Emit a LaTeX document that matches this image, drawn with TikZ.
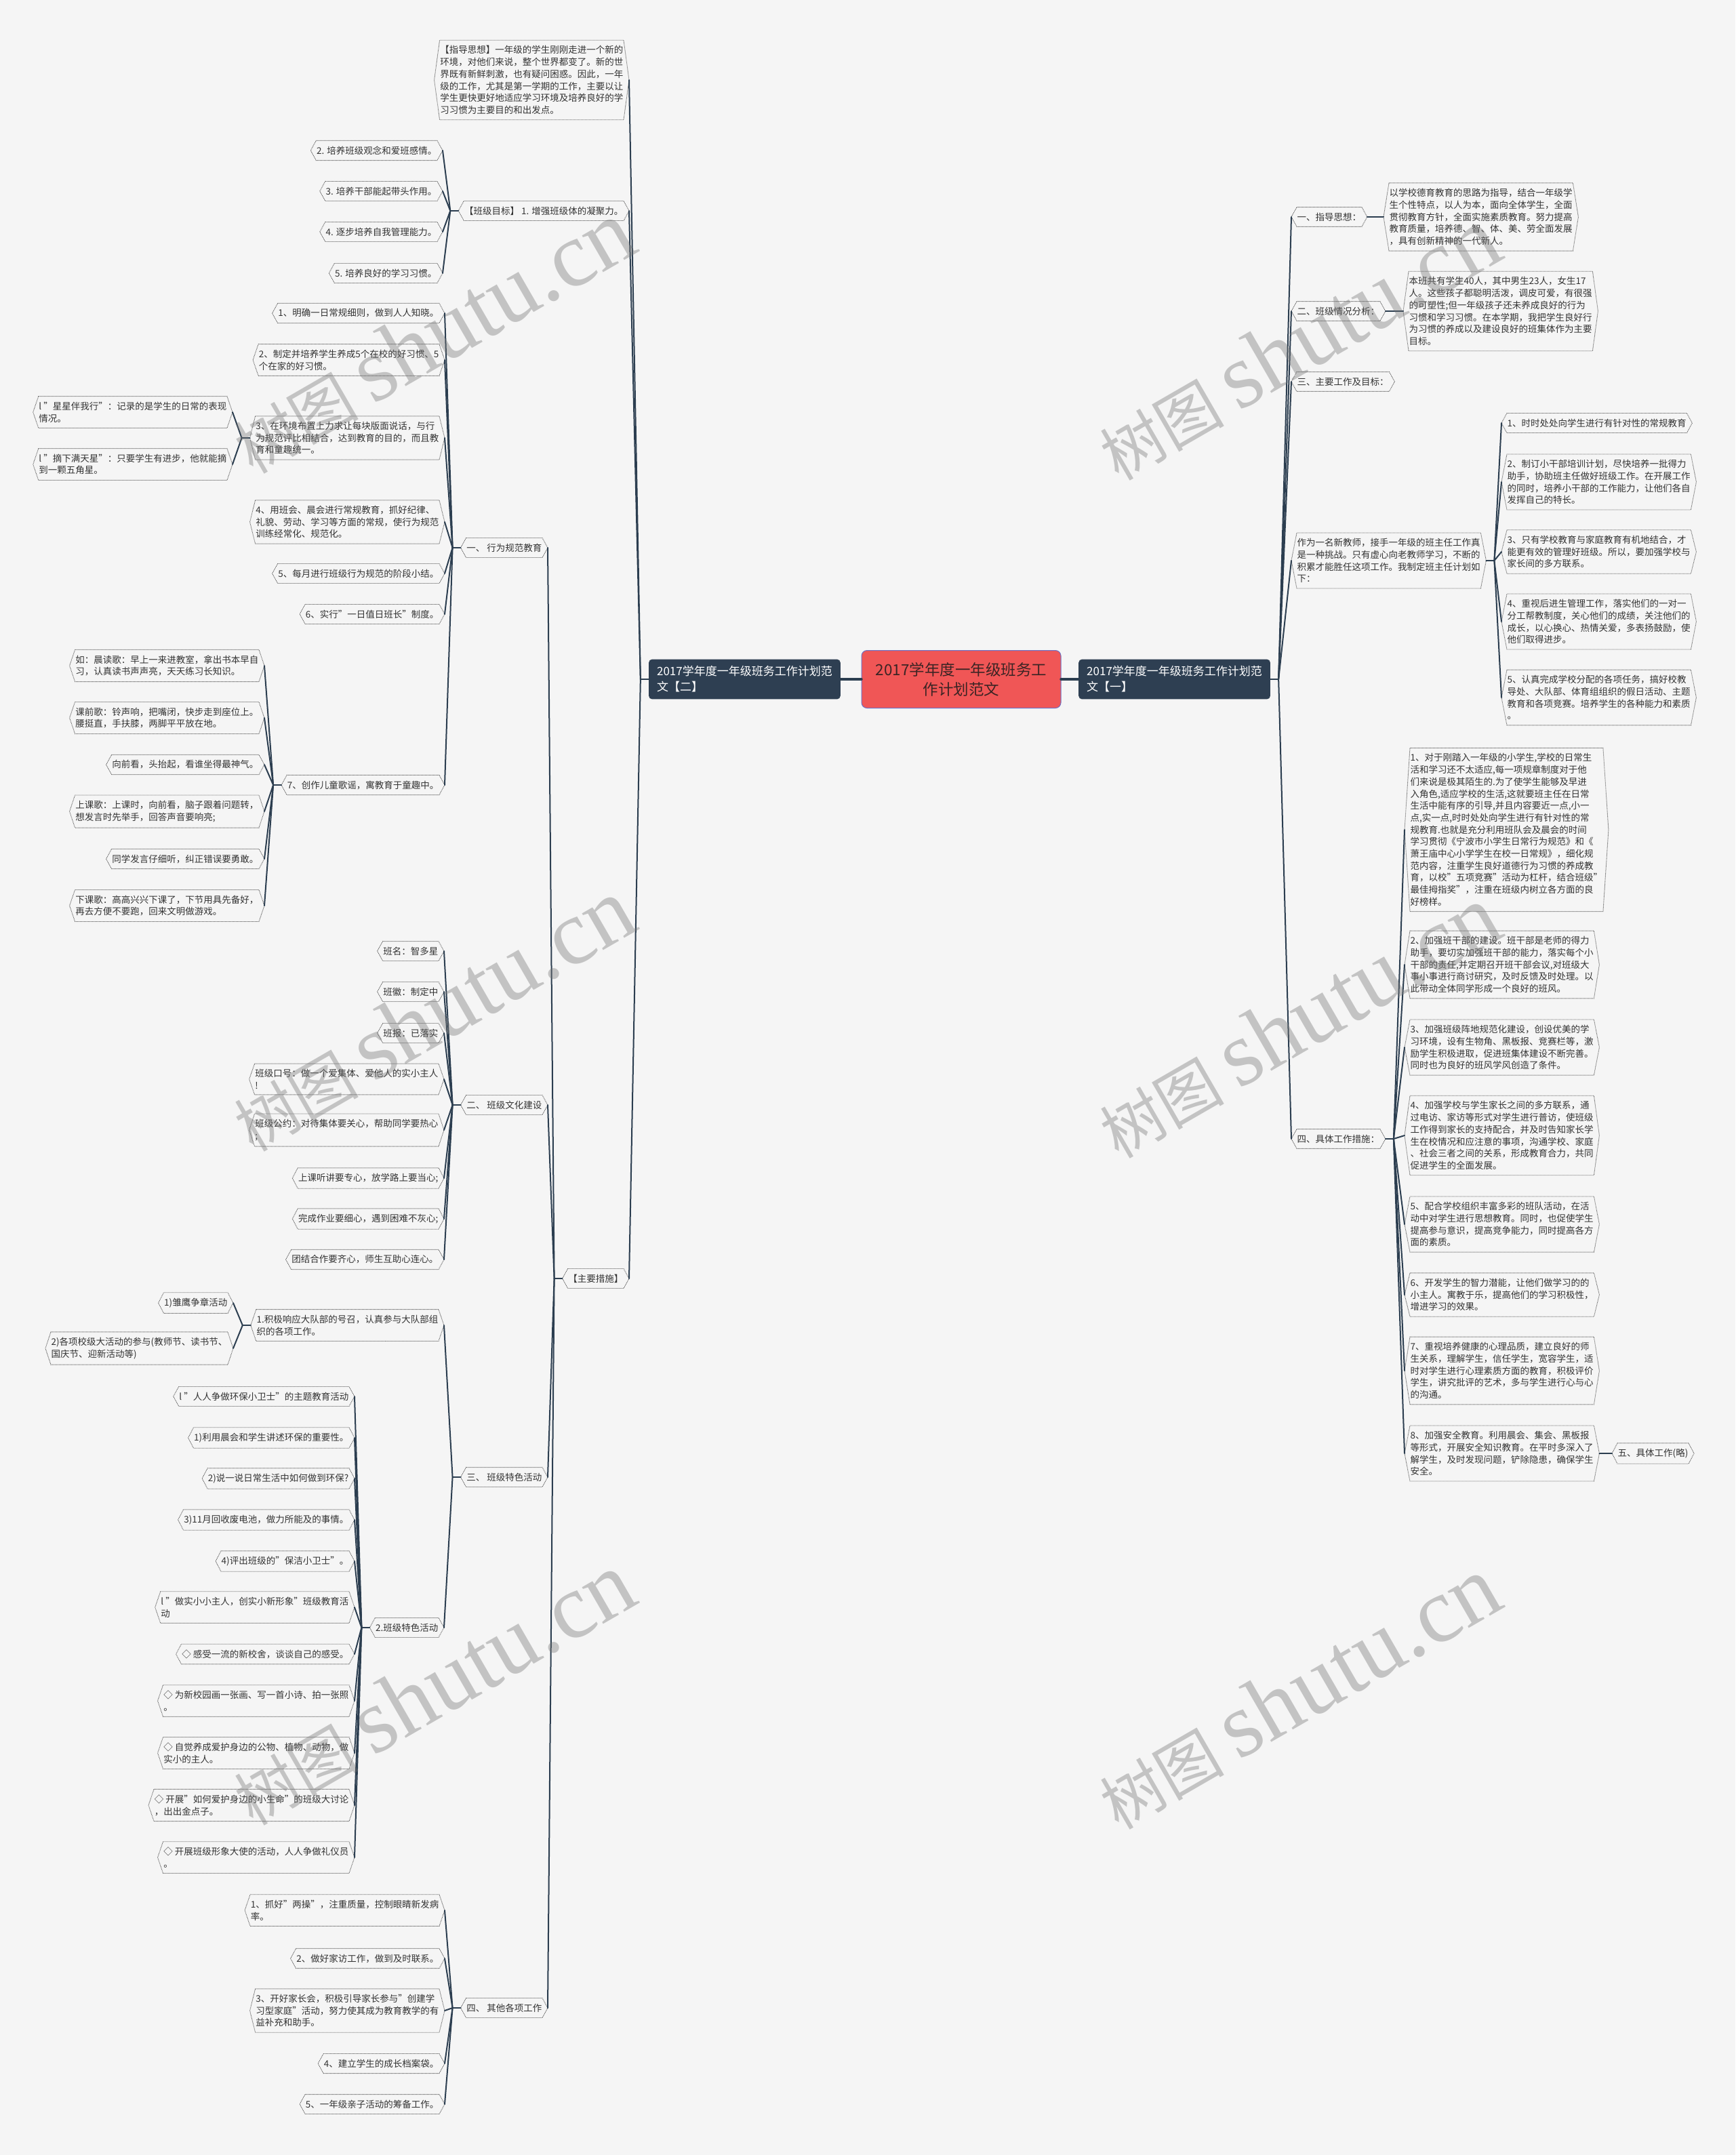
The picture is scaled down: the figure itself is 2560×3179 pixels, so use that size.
\documentclass[tikz,border=0pt]{standalone}
\usepackage{fontspec}
\setmainfont{Noto Sans CJK SC}
\newfontfamily\wmserif{Liberation Serif}
\usetikzlibrary{calc}
\definecolor{bg}{HTML}{F5F5F5}
\definecolor{navy}{HTML}{2C3E50}
\definecolor{lonefill}{HTML}{2E3F52}
\definecolor{ctrfill}{HTML}{F05656}
\definecolor{ctrborder}{HTML}{6C6FC4}
\definecolor{ctrtext}{HTML}{3B2424}
\definecolor{txt}{HTML}{333333}
\definecolor{bord}{HTML}{555555}
\tikzset{
  hx/.style={font=\fontsize{13.5}{17.7}\selectfont, text=txt, align=left, inner xsep=8.5, inner ysep=8},
  hxline/.style={draw=bord, line width=0.9, dash pattern=on 1pt off 1pt},
  conn/.style={draw=navy, line width=2, line cap=round, line join=round},
  maincn/.style={draw=navy, line width=4.5, line cap=round},
  lone/.style={fill=lonefill, text=white, rounded corners=5, font=\fontsize{17}{23}\selectfont, align=left, inner xsep=12, inner ysep=10},
  ctrn/.style={fill=ctrfill, draw=ctrborder, line width=1, rounded corners=8, font=\fontsize{22.5}{29}\selectfont, align=center, text=ctrtext, minimum width=294, minimum height=85},
  wm/.style={text=black!55, opacity=0.38, rotate=30, inner sep=0}
}
\newcommand\hxnode[4]{%
  \node[hx,anchor=#2] (#1) at (#3) {#4};
  \draw[hxline] ([xshift=8]#1.north west) -- ([xshift=-8]#1.north east) -- (#1.east) -- ([xshift=-8]#1.south east) -- ([xshift=8]#1.south west) -- (#1.west) -- cycle;}
\newcommand\lfan[2]{%
  \draw[conn] (#1.west) -- ++(-12,0) coordinate (j#1);
  \foreach \c in {#2}{\draw[conn] (j#1) -- (\c.east);}}
\newcommand\rfan[2]{%
  \draw[conn] (#1.east) -- ++(12,0) coordinate (k#1);
  \foreach \c in {#2}{\draw[conn] (k#1) -- (\c.west);}}
\begin{document}
\begin{tikzpicture}[x=1pt,y=-1pt]
\fill[bg] (0,0) rectangle (2560,3179);
\useasboundingbox (0,0) rectangle (2560,3179);

% centre and level one
\node[ctrn] (ctr) at (1418,1002) {2017学年度一年级班务工\\作计划范文};
\node[lone, anchor=east] (lL1) at (1240,1002) {2017学年度一年级班务工作计划范\\文【二】};
\node[lone, anchor=west] (rL1) at (1591,1002) {2017学年度一年级班务工作计划范\\文【一】};
\draw[maincn] (ctr.west) -- (lL1.east);
\draw[maincn] (ctr.east) -- (rL1.west);

% ---------------- left side ----------------
\hxnode{a1}{east}{928,118}{【指导思想】一年级的学生刚刚走进一个新的\\环境，对他们来说，整个世界都变了。新的世\\界既有新鲜刺激，也有疑问困惑。因此，一年\\级的工作，尤其是第一学期的工作，主要以让\\学生更快更好地适应学习环境及培养良好的学\\习习惯为主要目的和出发点。}
\hxnode{a2}{east}{928,311}{【班级目标】 1. 增强班级体的凝聚力。}
\hxnode{a2k1}{east}{653,222}{2. 培养班级观念和爱班感情。}
\hxnode{a2k2}{east}{653,282}{3. 培养干部能起带头作用。}
\hxnode{a2k3}{east}{653,342}{4. 逐步培养自我管理能力。}
\hxnode{a2k4}{east}{653,403}{5. 培养良好的学习习惯。}
\hxnode{a3}{east}{928,1886}{【主要措施】}

\hxnode{b1}{east}{808,808}{一、 行为规范教育}
\hxnode{b2}{east}{808,1630}{二、 班级文化建设}
\hxnode{b3}{east}{808,2179}{三、 班级特色活动}
\hxnode{b4}{east}{808,2962}{四、 其他各项工作}

\hxnode{b1k1}{east}{656,462}{1、明确一日常规细则，做到人人知晓。}
\hxnode{b1k2}{east}{656,531}{2、制定并培养学生养成5个在校的好习惯、5\\个在家的好习惯。}
\hxnode{b1k3}{east}{656,646}{3、在环境布置上力求让每块版面说话，与行\\为规范评比相结合，达到教育的目的，而且教\\育和童趣统一。}
\hxnode{b1k4}{east}{656,770}{4、用班会、晨会进行常规教育，抓好纪律、\\礼貌、劳动、学习等方面的常规，使行为规范\\训练经常化、规范化。}
\hxnode{b1k5}{east}{656,846}{5、每月进行班级行为规范的阶段小结。}
\hxnode{b1k6}{east}{656,906}{6、实行"一日值日班长"制度。}
\hxnode{b1k7}{east}{656,1158}{7、创作儿童歌谣，寓教育于童趣中。}

\hxnode{b13k1}{east}{343,608}{l "星星伴我行"：记录的是学生的日常的表现\\情况。}
\hxnode{b13k2}{east}{343,685}{l "摘下满天星"：只要学生有进步，他就能摘\\到一颗五角星。}

\hxnode{b17k1}{east}{390,982}{如：晨读歌：早上一来进教室，拿出书本早自\\习，认真读书声声亮，天天练习长知识。}
\hxnode{b17k2}{east}{390,1059}{课前歌：铃声响，把嘴闭，快步走到座位上。\\腰挺直，手扶膝，两脚平平放在地。}
\hxnode{b17k3}{east}{390,1128}{向前看，头抬起，看谁坐得最神气。}
\hxnode{b17k4}{east}{390,1197}{上课歌：上课时，向前看，脑子跟着问题转，\\想发言时先举手，回答声音要响亮;}
\hxnode{b17k5}{east}{390,1267}{同学发言仔细听，纠正错误要勇敢。}
\hxnode{b17k6}{east}{390,1336}{下课歌：高高兴兴下课了，下节用具先备好，\\再去方便不要跑，回来文明做游戏。}

\hxnode{b2k1}{east}{655,1403}{班名：智多星}
\hxnode{b2k2}{east}{655,1463}{班徽：制定中}
\hxnode{b2k3}{east}{655,1524}{班报：已落实}
\hxnode{b2k4}{east}{655,1592}{班级口号：做一个爱集体、爱他人的实小主人\\!}
\hxnode{b2k5}{east}{655,1667}{班级公约：对待集体要关心，帮助同学要热心\\;}
\hxnode{b2k6}{east}{655,1738}{上课听讲要专心，放学路上要当心;}
\hxnode{b2k7}{east}{655,1798}{完成作业要细心，遇到困难不灰心;}
\hxnode{b2k8}{east}{655,1858}{团结合作要齐心，师生互助心连心。}

\hxnode{c1}{east}{655,1955}{1.积极响应大队部的号召，认真参与大队部组\\织的各项工作。}
\hxnode{c2}{east}{655,2401}{2.班级特色活动}
\hxnode{c1k1}{east}{344,1922}{1)雏鹰争章活动}
\hxnode{c1k2}{east}{344,1989}{2)各项校级大活动的参与(教师节、读书节、\\国庆节、迎新活动等)}

\hxnode{c2k1}{east}{523,2060}{l "人人争做环保小卫士"的主题教育活动}
\hxnode{c2k2}{east}{523,2121}{1)利用晨会和学生讲述环保的重要性。}
\hxnode{c2k3}{east}{523,2181}{2)说一说日常生活中如何做到环保?}
\hxnode{c2k4}{east}{523,2242}{3)11月回收废电池，做力所能及的事情。}
\hxnode{c2k5}{east}{523,2303}{4)评出班级的"保洁小卫士"。}
\hxnode{c2k6}{east}{523,2371}{l "做实小小主人，创实小新形象"班级教育活\\动}
\hxnode{c2k7}{east}{523,2440}{◇ 感受一流的新校舍，谈谈自己的感受。}
\hxnode{c2k8}{east}{523,2509}{◇ 为新校园画一张画、写一首小诗、拍一张照\\。}
\hxnode{c2k9}{east}{523,2586}{◇ 自觉养成爱护身边的公物、植物、动物，做\\实小的主人。}
\hxnode{c2k10}{east}{523,2663}{◇ 开展"如何爱护身边的小生命"的班级大讨论\\，出出金点子。}
\hxnode{c2k11}{east}{523,2740}{◇ 开展班级形象大使的活动，人人争做礼仪员\\。}

\hxnode{b4k1}{east}{656,2818}{1、抓好"两操"，注重质量，控制眼睛新发病\\率。}
\hxnode{b4k2}{east}{656,2889}{2、做好家访工作，做到及时联系。}
\hxnode{b4k3}{east}{656,2966}{3、开好家长会，积极引导家长参与"创建学\\习型家庭"活动，努力使其成为教育教学的有\\益补充和助手。}
\hxnode{b4k4}{east}{656,3044}{4、建立学生的成长档案袋。}
\hxnode{b4k5}{east}{656,3104}{5、一年级亲子活动的筹备工作。}

\lfan{lL1}{a1,a2,a3}
\lfan{a2}{a2k1,a2k2,a2k3,a2k4}
\lfan{a3}{b1,b2,b3,b4}
\lfan{b1}{b1k1,b1k2,b1k3,b1k4,b1k5,b1k6,b1k7}
\lfan{b1k3}{b13k1,b13k2}
\lfan{b1k7}{b17k1,b17k2,b17k3,b17k4,b17k5,b17k6}
\lfan{b2}{b2k1,b2k2,b2k3,b2k4,b2k5,b2k6,b2k7,b2k8}
\lfan{b3}{c1,c2}
\lfan{c1}{c1k1,c1k2}
\lfan{c2}{c2k1,c2k2,c2k3,c2k4,c2k5,c2k6,c2k7,c2k8,c2k9,c2k10,c2k11}
\lfan{b4}{b4k1,b4k2,b4k3,b4k4,b4k5}

% ---------------- right side ----------------
\hxnode{d1}{west}{1905,320}{一、指导思想：}
\hxnode{d1k}{west}{2041,320}{以学校德育教育的思路为指导，结合一年级学\\生个性特点，以人为本，面向全体学生，全面\\贯彻教育方针，全面实施素质教育。努力提高\\教育质量，培养德、智、体、美、劳全面发展\\，具有创新精神的一代新人。}
\hxnode{d2}{west}{1905,459}{二、班级情况分析：}
\hxnode{d2k}{west}{2070,459}{本班共有学生40人，其中男生23人，女生17\\人。这些孩子都聪明活泼，调皮可爱，有很强\\的可塑性;但一年级孩子还未养成良好的行为\\习惯和学习习惯。在本学期，我把学生良好行\\为习惯的养成以及建设良好的班集体作为主要\\目标。}
\hxnode{d3}{west}{1905,563}{三、主要工作及目标：}
\hxnode{d4}{west}{1905,827}{作为一名新教师，接手一年级的班主任工作真\\是一种挑战。只有虚心向老教师学习，不断的\\积累才能胜任这项工作。我制定班主任计划如\\下：}
\hxnode{d4k1}{west}{2215,624}{1、时时处处向学生进行有针对性的常规教育}
\hxnode{d4k2}{west}{2215,711}{2、制订小干部培训计划，尽快培养一批得力\\助手，协助班主任做好班级工作。在开展工作\\的同时，培养小干部的工作能力，让他们各自\\发挥自己的特长。}
\hxnode{d4k3}{west}{2215,814}{3、只有学校教育与家庭教育有机地结合，才\\能更有效的管理好班级。所以，要加强学校与\\家长间的多方联系。}
\hxnode{d4k4}{west}{2215,917}{4、重视后进生管理工作，落实他们的一对一\\分工帮教制度，关心他们的成绩，关注他们的\\成长，以心换心、热情关爱，多表扬鼓励，使\\他们取得进步。}
\hxnode{d4k5}{west}{2215,1029}{5、认真完成学校分配的各项任务，搞好校教\\导处、大队部、体育组组织的假日活动、主题\\教育和各项竞赛。培养学生的各种能力和素质\\。}
\hxnode{d5}{west}{1905,1680}{四、具体工作措施：}
\hxnode{e1}{west}{2072,1224}{1、对于刚踏入一年级的小学生,学校的日常生\\活和学习还不太适应,每一项规章制度对于他\\们来说是极其陌生的.为了使学生能够及早进\\入角色,适应学校的生活,这就要班主任在日常\\生活中能有序的引导,并且内容要近一点,小一\\点,实一点,时时处处向学生进行有针对性的常\\规教育.也就是充分利用班队会及晨会的时间\\学习贯彻《宁波市小学生日常行为规范》和《\\萧王庙中心小学学生在校一日常规》，细化规\\范内容，注重学生良好道德行为习惯的养成教\\育，以校"五项竞赛"活动为杠杆，结合班级"\\最佳拇指奖"，注重在班级内树立各方面的良\\好榜样。}
\hxnode{e2}{west}{2072,1423}{2、加强班干部的建设。班干部是老师的得力\\助手，要切实加强班干部的能力，落实每个小\\干部的责任,并定期召开班干部会议,对班级大\\事小事进行商讨研究，及时反馈及时处理。以\\此带动全体同学形成一个良好的班风。}
\hxnode{e3}{west}{2072,1545}{3、加强班级阵地规范化建设，创设优美的学\\习环境，设有生物角、黑板报、竞赛栏等，激\\励学生积极进取，促进班集体建设不断完善。\\同时也为良好的班风学风创造了条件。}
\hxnode{e4}{west}{2072,1675}{4、加强学校与学生家长之间的多方联系，通\\过电访、家访等形式对学生进行普访，使班级\\工作得到家长的支持配合，并及时告知家长学\\生在校情况和应注意的事项，沟通学校、家庭\\、社会三者之间的关系，形成教育合力，共同\\促进学生的全面发展。}
\hxnode{e5}{west}{2072,1806}{5、配合学校组织丰富多彩的班队活动，在活\\动中对学生进行思想教育。同时，也促使学生\\提高参与意识，提高竞争能力，同时提高各方\\面的素质。}
\hxnode{e6}{west}{2072,1910}{6、开发学生的智力潜能，让他们做学习的的\\小主人。寓教于乐，提高他们的学习积极性，\\增进学习的效果。}
\hxnode{e7}{west}{2072,2022}{7、重视培养健康的心理品质，建立良好的师\\生关系，理解学生，信任学生，宽容学生，适\\时对学生进行心理素质方面的教育，积极评价\\学生，讲究批评的艺术，多与学生进行心与心\\的沟通。}
\hxnode{e8}{west}{2072,2144}{8、加强安全教育。利用晨会、集会、黑板报\\等形式，开展安全知识教育。在平时多深入了\\解学生，及时发现问题，铲除隐患，确保学生\\安全。}
\hxnode{e8k}{west}{2378,2144}{五、具体工作(略)}

\rfan{rL1}{d1,d2,d3,d4,d5}
\rfan{d1}{d1k}
\rfan{d2}{d2k}
\rfan{d4}{d4k1,d4k2,d4k3,d4k4,d4k5}
\rfan{d5}{e1,e2,e3,e4,e5,e6,e7,e8}
\rfan{e8}{e8k}

% watermarks
\foreach \x/\y [count=\i] in {638/497,638/1497,638/2491,1915/507,1915/1507,1915/2497}{
  \node[wm] (wm\i) at (\x,\y) {\fontsize{92}{92}\selectfont 树图 {\wmserif\fontsize{136}{136}\selectfont shutu.cn}};
}
\end{tikzpicture}
\end{document}
